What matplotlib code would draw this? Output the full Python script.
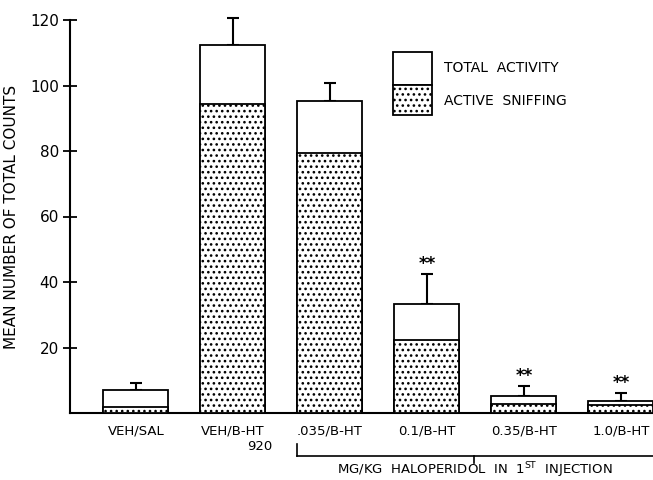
import numpy as np
import matplotlib
matplotlib.use('Agg')
from matplotlib import pyplot as plt

groups   = ['VEH/SAL', 'VEH/B-HT', '.035/B-HT', '0.1/B-HT', '0.35/B-HT', '1.0/B-HT']
total    = [6.9, 112.5, 95.3, 33.3, 5.3, 3.6]
sniffing = [1.7, 94.3, 79.5, 22.3, 2.7, 2.4]
err_up   = [2.2, 8.0, 5.5, 9.0, 2.8, 2.6]
signif   = [False, False, False, True, True, True]

plt.rcParams['font.family'] = ['DejaVu Sans']
plt.rcParams['hatch.linewidth'] = 1.1

fig = plt.figure(figsize=(6.53, 4.8), dpi=100)
ax = fig.add_axes([70/653, 1 - 413/480, 1 - 70/653, (413 - 20)/480])

x = np.arange(len(groups))
w = 0.67

# open bar for total activity, dotted lower part for sniffing
ax.bar(x, total, w, color='white', edgecolor='black', linewidth=1.3, zorder=2)
ax.bar(x, sniffing, w, color='white', edgecolor='black', hatch='...', linewidth=1.3, zorder=3)
ax.errorbar(x, total, yerr=[np.zeros(len(x)), err_up], fmt='none', ecolor='black',
            elinewidth=1.5, capsize=4, capthick=1.5, zorder=1, clip_on=False)

for xi, t, e, s in zip(x, total, err_up, signif):
    if s:
        ax.text(xi, t + e + 0.3, '**', ha='center', va='bottom', fontsize=12, fontweight='bold')

ax.set_xlim(-0.68, 5.33)
ax.set_ylim(0, 120)
ax.set_yticks([20, 40, 60, 80, 100, 120])
ax.tick_params(axis='y', direction='inout', length=10, width=1.3, labelsize=11, pad=3)
ax.set_xticks(x)
ax.set_xticklabels(groups, fontsize=9.5)
ax.tick_params(axis='x', length=0, pad=8)
ax.text(1.41, -10.3, '920', ha='right', va='center', fontsize=9.5)
ax.spines['top'].set_visible(False)
ax.spines['right'].set_visible(False)
ax.spines['left'].set_linewidth(1.5)
ax.spines['bottom'].set_linewidth(1.5)
ax.set_ylabel('MEAN NUMBER OF TOTAL COUNTS', fontsize=11, labelpad=8)

# legend: open upper half and dotted lower half of one box
ax.bar(2.85, 10.0, 0.4, bottom=100.3, color='white', edgecolor='black', linewidth=1.3)
ax.bar(2.85, 9.3, 0.4, bottom=91.0, color='white', edgecolor='black', hatch='...', linewidth=1.3)
ax.text(3.18, 105.2, 'TOTAL  ACTIVITY', fontsize=10, va='center')
ax.text(3.18, 95.4, 'ACTIVE  SNIFFING', fontsize=10, va='center')

# bracket under the haloperidol doses
bx0, bx1, by = 297/653, 1.0, 1 - 456/480
fig.add_artist(plt.Line2D([bx0, bx0], [1 - 444/480, by], color='black', lw=1.2))
fig.add_artist(plt.Line2D([bx0, bx1], [by, by], color='black', lw=1.2))
fig.add_artist(plt.Line2D([474/653, 474/653], [by, 1 - 463/480], color='black', lw=1.2))
fig.text(475/653, 1 - 470/480, 'MG/KG  HALOPERIDOL  IN  1$^{\\mathrm{ST}}$  INJECTION',
         ha='center', va='center', fontsize=9.5)

fig.savefig('out.png', dpi=100)
